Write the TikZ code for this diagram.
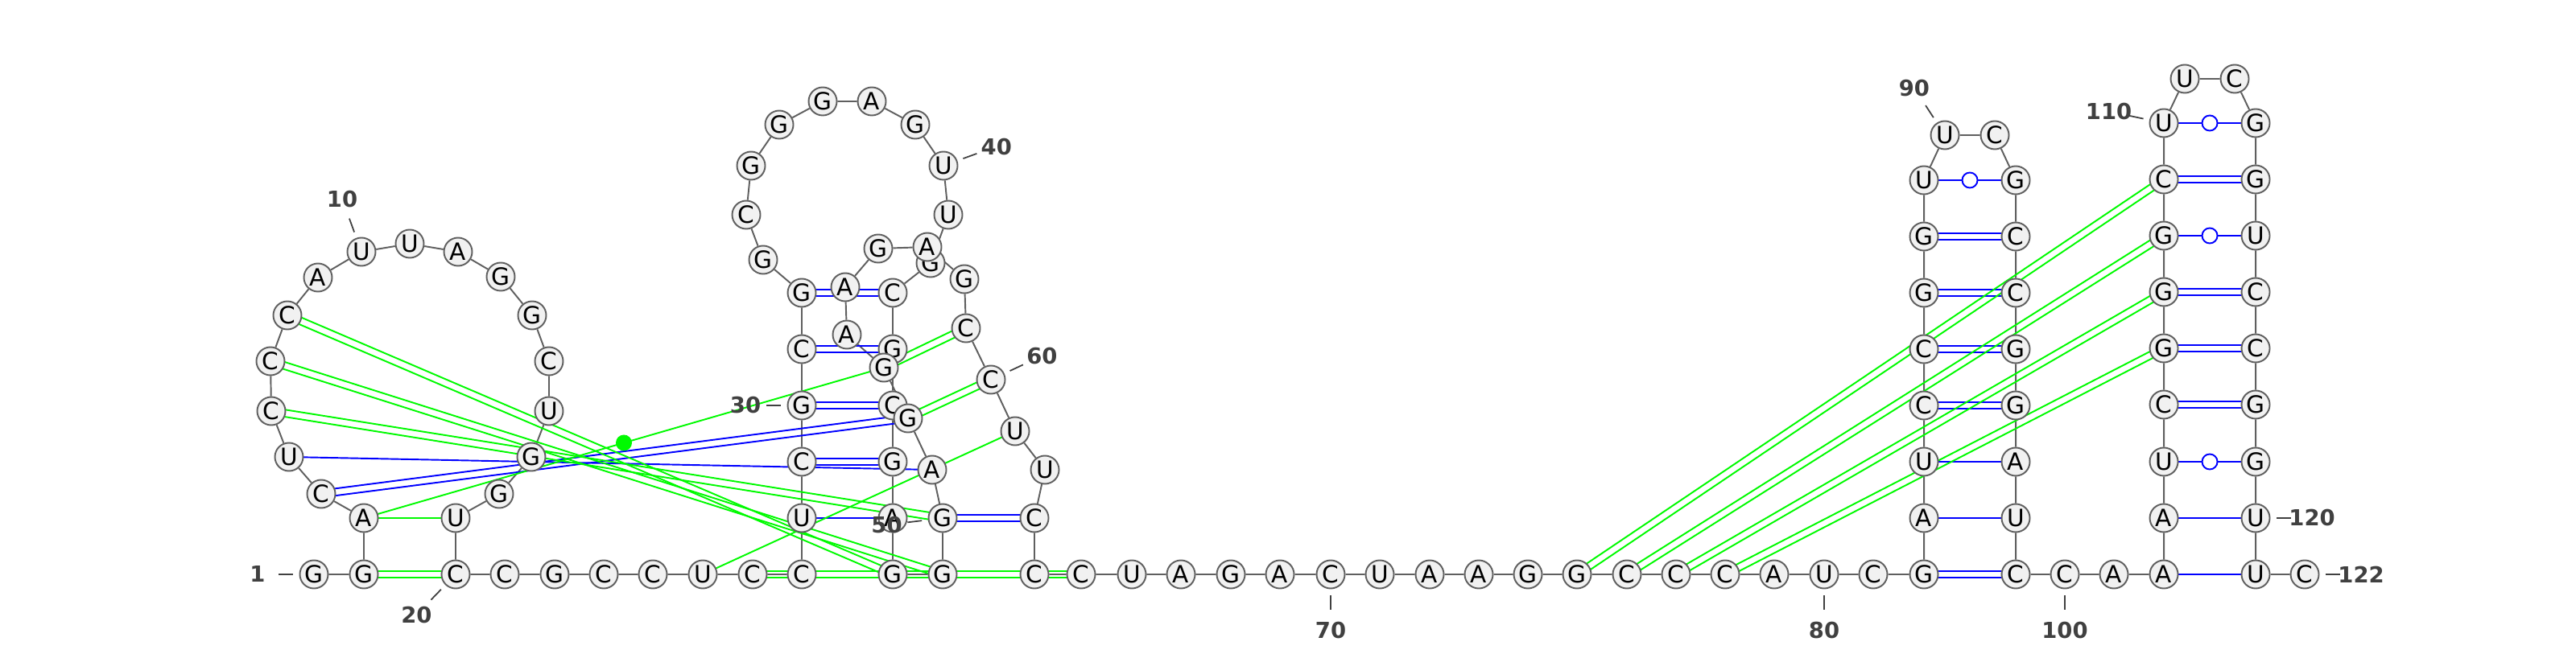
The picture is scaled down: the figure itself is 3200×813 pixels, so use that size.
\documentclass[tikz,border=0pt]{standalone}
\usepackage{fontspec}
\setmainfont{DejaVu Sans}
\usetikzlibrary{calc,backgrounds}
\definecolor{ntline}{RGB}{95,95,95}
\definecolor{ntfill}{RGB}{241,241,241}
\definecolor{bpblue}{RGB}{0,0,255}
\definecolor{bpgreen}{RGB}{0,250,0}
\definecolor{numgray}{RGB}{64,64,64}
\tikzset{
  nt/.style={circle, draw=ntline, fill=ntfill, line width=0.55pt, minimum size=0.35cm,
             inner sep=0pt, font=\fontsize{8.4}{8.4}\selectfont},
  bb/.style={draw=ntline, line width=0.55pt},
  bpb/.style={draw=bpblue, line width=0.55pt},
  bpg/.style={draw=bpgreen, line width=0.55pt},
  wobble/.style={circle, draw=bpblue, fill=white, line width=0.55pt, minimum size=0.19cm, inner sep=0pt},
  gadot/.style={circle, fill=bpgreen, minimum size=0.2cm, inner sep=0pt},
  numlab/.style={text=numgray, inner sep=0pt, font=\bfseries\fontsize{7.8}{7.8}\selectfont},
  numtick/.style={draw=numgray, line width=0.5pt},
}
\newcommand{\bpgap}{1.25pt}
\newcommand{\dbp}[3]{\draw[#1] ($(#2)!\bpgap!90:(#3)$) -- ($(#3)!\bpgap!-90:(#2)$);
  \draw[#1] ($(#2)!\bpgap!-90:(#3)$) -- ($(#3)!\bpgap!90:(#2)$);}
\newcommand{\sbp}[3]{\draw[#1] (#2.center) -- (#3.center);}
\newcommand{\gubp}[3]{\draw[bpb] (#1.center) -- (#2.center) node[wobble, midway] (#3) {};}
\newcommand{\numat}[3]{\path (#1.center) ++(#3:70) node[numlab] (l#2) {#2};
  \draw[numtick] ($(#1)!0.26cm!(l#2)$) -- ($(#1)!0.44cm!(l#2)$);}

\begin{document}
\begin{tikzpicture}[x=0.01cm, y=-0.01cm]
  \useasboundingbox (0,0) rectangle (3200,813);
  \node[nt] (n1) at (390,714) {G}; \node[nt] (n2) at (452,714) {G}; \node[nt] (n3) at (452,644) {A};
  \node[nt] (n4) at (399,614) {C}; \node[nt] (n5) at (359,568) {U}; \node[nt] (n6) at (337,511) {C};
  \node[nt] (n7) at (336,449) {C}; \node[nt] (n8) at (357,392) {C}; \node[nt] (n9) at (395,345) {A};
  \node[nt] (n10) at (449,313) {U}; \node[nt] (n11) at (509,303) {U}; \node[nt] (n12) at (569,313) {A};
  \node[nt] (n13) at (622,344) {G}; \node[nt] (n14) at (661,392) {G}; \node[nt] (n15) at (682,449) {C};
  \node[nt] (n16) at (682,511) {U}; \node[nt] (n17) at (660,568) {G}; \node[nt] (n18) at (620,614) {G};
  \node[nt] (n19) at (566,644) {U}; \node[nt] (n20) at (566,714) {C}; \node[nt] (n21) at (627,714) {C};
  \node[nt] (n22) at (689,714) {G}; \node[nt] (n23) at (750,714) {C}; \node[nt] (n24) at (811,714) {C};
  \node[nt] (n25) at (873,714) {U}; \node[nt] (n26) at (935,714) {C}; \node[nt] (n27) at (996,714) {C};
  \node[nt] (n28) at (996,644) {U}; \node[nt] (n29) at (996,574) {C}; \node[nt] (n30) at (996,504) {G};
  \node[nt] (n31) at (996,434) {C}; \node[nt] (n32) at (996,364) {G}; \node[nt] (n33) at (948,323) {G};
  \node[nt] (n34) at (927,267) {C}; \node[nt] (n35) at (933,206) {G}; \node[nt] (n36) at (968,155) {G};
  \node[nt] (n37) at (1022,126) {G}; \node[nt] (n38) at (1083,126) {A}; \node[nt] (n39) at (1137,155) {G};
  \node[nt] (n40) at (1172,206) {U}; \node[nt] (n41) at (1178,267) {U}; \node[nt] (n42) at (1156,327) {G};
  \node[nt] (n43) at (1109,364) {C}; \node[nt] (n44) at (1109,434) {G}; \node[nt] (n45) at (1109,504) {C};
  \node[nt] (n46) at (1109,574) {G}; \node[nt] (n47) at (1109,644) {A}; \node[nt] (n48) at (1109,714) {G};
  \node[nt] (n49) at (1171,714) {G}; \node[nt] (n50) at (1171,644) {G}; \node[nt] (n51) at (1158,584) {A};
  \node[nt] (n52) at (1128,520) {G}; \node[nt] (n53) at (1098,457) {G}; \node[nt] (n54) at (1052,416) {A};
  \node[nt] (n55) at (1050,357) {A}; \node[nt] (n56) at (1091,309) {G}; \node[nt] (n57) at (1152,307) {A};
  \node[nt] (n58) at (1198,347) {G}; \node[nt] (n59) at (1200,408) {C}; \node[nt] (n60) at (1231,472) {C};
  \node[nt] (n61) at (1261,536) {U}; \node[nt] (n62) at (1298,584) {U}; \node[nt] (n63) at (1285,644) {C};
  \node[nt] (n64) at (1285,714) {C}; \node[nt] (n65) at (1343,714) {C}; \node[nt] (n66) at (1406,714) {U};
  \node[nt] (n67) at (1467,714) {A}; \node[nt] (n68) at (1529,714) {G}; \node[nt] (n69) at (1590,714) {A};
  \node[nt] (n70) at (1653,714) {C}; \node[nt] (n71) at (1714,714) {U}; \node[nt] (n72) at (1776,714) {A};
  \node[nt] (n73) at (1837,714) {A}; \node[nt] (n74) at (1898,714) {G}; \node[nt] (n75) at (1959,714) {G};
  \node[nt] (n76) at (2021,714) {C}; \node[nt] (n77) at (2082,714) {C}; \node[nt] (n78) at (2143,714) {C};
  \node[nt] (n79) at (2204,714) {A}; \node[nt] (n80) at (2266,714) {U}; \node[nt] (n81) at (2327,714) {C};
  \node[nt] (n82) at (2390,714) {G}; \node[nt] (n83) at (2390,644) {A}; \node[nt] (n84) at (2390,574) {U};
  \node[nt] (n85) at (2390,504) {C}; \node[nt] (n86) at (2390,434) {C}; \node[nt] (n87) at (2390,364) {G};
  \node[nt] (n88) at (2390,294) {G}; \node[nt] (n89) at (2390,224) {U}; \node[nt] (n90) at (2416,168) {U};
  \node[nt] (n91) at (2478,168) {C}; \node[nt] (n92) at (2504,224) {G}; \node[nt] (n93) at (2504,294) {C};
  \node[nt] (n94) at (2504,364) {C}; \node[nt] (n95) at (2504,434) {G}; \node[nt] (n96) at (2504,504) {G};
  \node[nt] (n97) at (2504,574) {A}; \node[nt] (n98) at (2504,644) {U}; \node[nt] (n99) at (2504,714) {C};
  \node[nt] (n100) at (2565,714) {C}; \node[nt] (n101) at (2626,714) {A}; \node[nt] (n102) at (2688,714) {A};
  \node[nt] (n103) at (2688,644) {A}; \node[nt] (n104) at (2688,574) {U}; \node[nt] (n105) at (2688,503) {C};
  \node[nt] (n106) at (2688,433) {G}; \node[nt] (n107) at (2688,363) {G}; \node[nt] (n108) at (2688,293) {G};
  \node[nt] (n109) at (2688,223) {C}; \node[nt] (n110) at (2688,153) {U}; \node[nt] (n111) at (2714,98) {U};
  \node[nt] (n112) at (2776,98) {C}; \node[nt] (n113) at (2802,153) {G}; \node[nt] (n114) at (2802,223) {G};
  \node[nt] (n115) at (2802,293) {U}; \node[nt] (n116) at (2802,363) {C}; \node[nt] (n117) at (2802,433) {C};
  \node[nt] (n118) at (2802,503) {G}; \node[nt] (n119) at (2802,574) {G}; \node[nt] (n120) at (2802,644) {U};
  \node[nt] (n121) at (2802,714) {U}; \node[nt] (n122) at (2863,714) {C};
  \begin{scope}[on background layer]
    \draw[bb] (n1)--(n2)--(n3)--(n4)--(n5)--(n6)--(n7)--(n8)--(n9)--(n10)--(n11)--(n12)--(n13)--(n14)
      --(n15)--(n16)--(n17)--(n18)--(n19)--(n20)--(n21)--(n22)--(n23)--(n24)--(n25)--(n26)--(n27)
      --(n28)--(n29)--(n30)--(n31)--(n32)--(n33)--(n34)--(n35)--(n36)--(n37)--(n38)--(n39)--(n40)
      --(n41)--(n42)--(n43)--(n44)--(n45)--(n46)--(n47)--(n48)--(n49)--(n50)--(n51)--(n52)--(n53)
      --(n54)--(n55)--(n56)--(n57)--(n58)--(n59)--(n60)--(n61)--(n62)--(n63)--(n64)--(n65)--(n66)
      --(n67)--(n68)--(n69)--(n70)--(n71)--(n72)--(n73)--(n74)--(n75)--(n76)--(n77)--(n78)--(n79)
      --(n80)--(n81)--(n82)--(n83)--(n84)--(n85)--(n86)--(n87)--(n88)--(n89)--(n90)--(n91)--(n92)
      --(n93)--(n94)--(n95)--(n96)--(n97)--(n98)--(n99)--(n100)--(n101)--(n102)--(n103)--(n104)
      --(n105)--(n106)--(n107)--(n108)--(n109)--(n110)--(n111)--(n112)--(n113)--(n114)--(n115)
      --(n116)--(n117)--(n118)--(n119)--(n120)--(n121)--(n122);
    \dbp{bpb}{n4}{n52} \sbp{bpb}{n5}{n51}
    \dbp{bpb}{n27}{n48} \sbp{bpb}{n28}{n47} \dbp{bpb}{n29}{n46} \dbp{bpb}{n30}{n45}
    \dbp{bpb}{n31}{n44} \dbp{bpb}{n32}{n43} \dbp{bpb}{n50}{n63}
    \dbp{bpb}{n82}{n99} \sbp{bpb}{n83}{n98} \sbp{bpb}{n84}{n97} \dbp{bpb}{n85}{n96}
    \dbp{bpb}{n86}{n95} \dbp{bpb}{n87}{n94} \dbp{bpb}{n88}{n93} \gubp{n89}{n92}{gu1}
    \sbp{bpb}{n102}{n121} \sbp{bpb}{n103}{n120} \gubp{n104}{n119}{gu2} \dbp{bpb}{n105}{n118}
    \dbp{bpb}{n106}{n117} \dbp{bpb}{n107}{n116} \gubp{n108}{n115}{gu3} \dbp{bpb}{n109}{n114}
    \gubp{n110}{n113}{gu4}
    \dbp{bpg}{n2}{n20} \sbp{bpg}{n3}{n19}
    \draw[bpg] (n3.center) -- (n53.center) node[gadot, midway] (ga1) {};
    \dbp{bpg}{n6}{n50} \dbp{bpg}{n7}{n49} \dbp{bpg}{n8}{n48}
    \sbp{bpg}{n25}{n61} \dbp{bpg}{n26}{n49} \dbp{bpg}{n48}{n65} \dbp{bpg}{n49}{n64}
    \dbp{bpg}{n53}{n59} \dbp{bpg}{n52}{n60}
    \dbp{bpg}{n75}{n109} \dbp{bpg}{n76}{n108} \dbp{bpg}{n77}{n107} \dbp{bpg}{n78}{n106}
  \end{scope}
  \numat{n1}{1}{180} \numat{n10}{10}{250} \numat{n20}{20}{134} \numat{n30}{30}{180}
  \numat{n40}{40}{340} \numat{n50}{50}{173} \numat{n60}{60}{335} \numat{n70}{70}{90}
  \numat{n80}{80}{90} \numat{n90}{90}{237} \numat{n100}{100}{90} \numat{n110}{110}{192}
  \numat{n120}{120}{0} \numat{n122}{122}{0}
\end{tikzpicture}
\end{document}
